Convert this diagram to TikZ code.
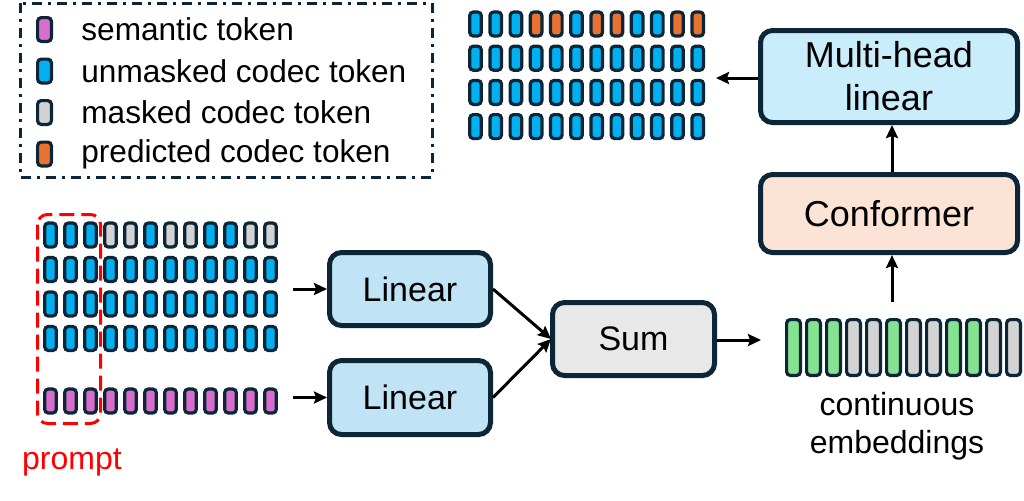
\documentclass[tikz,border=0pt]{standalone}
\usepackage{fontspec}
\setmainfont{Liberation Sans}
\usetikzlibrary{arrows.meta}
\definecolor{navy}{HTML}{0C2637}
\definecolor{tblue}{HTML}{00B0F0}
\definecolor{torange}{HTML}{E97132}
\definecolor{tgray}{HTML}{D3D3D3}
\definecolor{tpink}{HTML}{D86ECC}
\definecolor{tgreen}{HTML}{84E291}
\definecolor{linfill}{HTML}{C0E4F5}
\definecolor{mhfill}{HTML}{CAEDFB}
\definecolor{confill}{HTML}{FBE3D6}
\definecolor{sumfill}{HTML}{E8E8E8}
\tikzset{
  tok/.style={draw=navy, line width=1.6pt, rounded corners=1.8pt, minimum width=5.8pt, minimum height=12pt, inner sep=0pt},
  ctok/.style={tok, minimum width=6.9pt, minimum height=27.9pt},
  ltok/.style={tok, minimum width=6.9pt, minimum height=11.9pt},
  box/.style={draw=navy, line width=2.5pt, rounded corners=6pt, inner sep=0pt, align=center},
  arr/.style={line width=1.5pt, -{Stealth[length=6.5pt,width=6pt,inset=1pt]}},
  legtext/.style={anchor=west, inner sep=0pt, font=\fontsize{15.8}{19}\selectfont},
}
\begin{document}
\begin{tikzpicture}[x=0.5pt,y=-0.5pt]
\useasboundingbox (0,0) rectangle (1024,500);
% legend
\draw[navy, line width=1.5pt, dash pattern=on 5pt off 3pt on 1.5pt off 3pt] (20,3) rectangle (432,177);
\foreach \i/\col/\txt/\y in {1/tpink/semantic token/29.5, 2/tblue/unmasked codec token/71, 3/tgray/masked codec token/112.5, 4/torange/predicted codec token/154}{
  \node[ltok, fill=\col] (lg\i) at (44.5,\y) {};
  \node[legtext] (lt\i) at (81,\y) {\txt};
}
% output grid (top right)
\foreach \c/\col in {1/tblue,2/tblue,3/tblue,4/torange,5/torange,6/tblue,7/torange,8/torange,9/tblue,10/tblue,11/torange,12/torange}{
  \node[tok, fill=\col] (o-1-\c) at ({475.5+20.2*(\c-1)},24) {};
}
\foreach \r in {2,3,4}{
  \foreach \c in {1,...,12}{
    \node[tok, fill=tblue] (o-\r-\c) at ({475.5+20.2*(\c-1)},{24+34.2*(\r-1)}) {};
  }
}
% input grid (left)
\foreach \c/\col in {1/tblue,2/tblue,3/tblue,4/tgray,5/tgray,6/tblue,7/tgray,8/tgray,9/tblue,10/tblue,11/tgray,12/tgray}{
  \node[tok, fill=\col] (a-1-\c) at ({50.5+20*(\c-1)},235) {};
}
\foreach \r in {2,3,4}{
  \foreach \c in {1,...,12}{
    \node[tok, fill=tblue] (a-\r-\c) at ({50.5+20*(\c-1)},{235+34.5*(\r-1)}) {};
  }
}
\foreach \c in {1,...,12}{
  \node[tok, fill=tpink] (s-\c) at ({50.5+20*(\c-1)},401) {};
}
% prompt box
\draw[red, line width=1.5pt, dash pattern=on 7.5pt off 3.5pt, rounded corners=5pt] (37.5,214.5) rectangle (100.5,423.5);
\node[red, font=\fontsize{16}{19}\selectfont, inner sep=0pt] (prompt) at (72,462) {prompt};
% continuous embeddings
\foreach \c/\col in {1/tgreen,2/tgreen,3/tgreen,4/tgray,5/tgray,6/tgreen,7/tgray,8/tgray,9/tgreen,10/tgreen,11/tgray,12/tgray}{
  \node[ctok, fill=\col] (e-\c) at ({793.5+20*(\c-1)},347.5) {};
}
\node[align=center, inner sep=0pt, font=\fontsize{16}{19}\selectfont] (cetext) at (897,426) {continuous\\embeddings};
% boxes
\node[box, fill=linfill, minimum width=80.5pt, minimum height=36.5pt, font=\fontsize{17}{20}\selectfont] (lin1) at (410,289) {Linear};
\node[box, fill=linfill, minimum width=80.5pt, minimum height=37pt, font=\fontsize{17}{20}\selectfont] (lin2) at (410,397.5) {Linear};
\node[box, fill=sumfill, minimum width=81pt, minimum height=36.5pt, font=\fontsize{17}{20}\selectfont] (sum) at (633.5,339) {Sum};
\node[box, fill=confill, minimum width=128.5pt, minimum height=39pt, font=\fontsize{18}{21.5}\selectfont] (conf) at (889,213.5) {Conformer};
\node[box, fill=mhfill, minimum width=128.5pt, minimum height=46pt, font=\fontsize{18}{21.5}\selectfont] (mh) at (889,76.5) {Multi-head\\linear};
% connector ends
\coordinate (in1) at (293,289);
\coordinate (in2) at (293,397.5);
\coordinate (sumin) at (551,339);
\coordinate (ceL) at (761,340);
\coordinate (ceT) at (892,302);
\coordinate (outR) at (716,78);
% arrows
\draw[arr] (in1) -- (lin1.west);
\draw[arr] (in2) -- (lin2.west);
\draw[arr] (lin1.east) -- (sumin);
\draw[arr] (lin2.east) -- (sumin);
\draw[arr] (sum.east |- ceL) -- (ceL);
\draw[arr] (ceT) -- (ceT |- conf.south);
\draw[arr] (conf.north -| ceT) -- (mh.south -| ceT);
\draw[arr] (mh.west |- outR) -- (outR);
\end{tikzpicture}
\end{document}
